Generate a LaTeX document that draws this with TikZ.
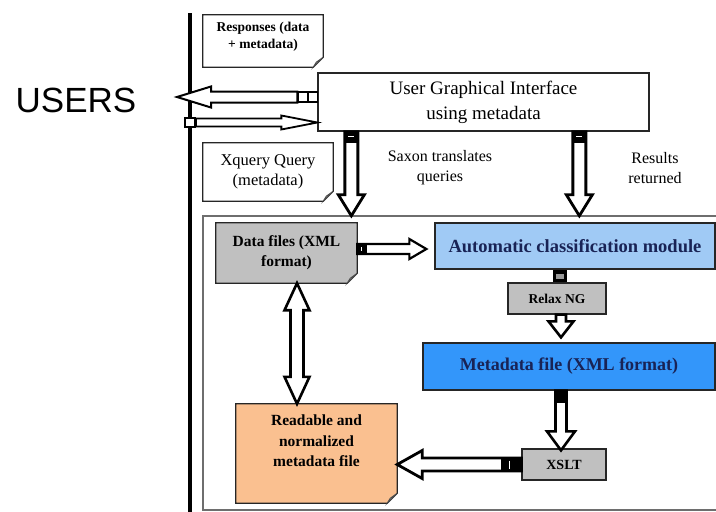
\documentclass[tikz,border=0pt]{standalone}
\usepackage{fontspec}
\setmainfont{Liberation Serif}
\newfontfamily\usersfont{Liberation Sans}
\usetikzlibrary{calc,backgrounds}
\definecolor{lblue}{RGB}{160,202,245}
\definecolor{mblue}{RGB}{51,150,250}
\definecolor{gbox}{RGB}{192,192,192}
\definecolor{obox}{RGB}{250,192,144}
\definecolor{navy}{RGB}{25,35,85}
\definecolor{frameg}{RGB}{110,110,110}
% block arrow: start, end, shaft half, head half, head length, options
\newcommand\barrow[6]{%
  \coordinate (hb) at ($(#2)!#5pt!(#1)$);
  \draw[line width=2.4pt, fill=white, line join=miter, #6]
    ($(#1)!#3pt!90:(#2)$) -- ($(hb)!#3pt!90:(#2)$) -- ($(hb)!#4pt!90:(#2)$)
    -- (#2) -- ($(hb)!#4pt!-90:(#2)$) -- ($(hb)!#3pt!-90:(#2)$)
    -- ($(#1)!#3pt!-90:(#2)$) -- cycle;}
% double block arrow
\newcommand\dbarrow[5]{%
  \coordinate (hbA) at ($(#1)!#5pt!(#2)$);
  \coordinate (hbB) at ($(#2)!#5pt!(#1)$);
  \draw[line width=2.6pt, fill=white, line join=miter]
    (#1) -- ($(hbA)!#4pt!90:(#2)$) -- ($(hbA)!#3pt!90:(#2)$)
    -- ($(hbB)!#3pt!90:(#2)$) -- ($(hbB)!#4pt!90:(#2)$) -- (#2)
    -- ($(hbB)!#4pt!-90:(#2)$) -- ($(hbB)!#3pt!-90:(#2)$)
    -- ($(hbA)!#3pt!-90:(#2)$) -- ($(hbA)!#4pt!-90:(#2)$) -- cycle;}
% folded-corner outline of a node
\newcommand\foldshape[2]{%
  \draw[line width=1.2pt, draw=black!85, fill=#2]
    (#1.north west) -- (#1.north east) -- ($(#1.south east)+(0,-10)$)
    -- ($(#1.south east)+(-10,0)$) -- (#1.south west) -- cycle;
  \draw[line width=0.8pt, draw=black!70, fill=black!35]
    ($(#1.south east)+(0,-10)$) -- ($(#1.south east)+(-7,-5)$)
    -- ($(#1.south east)+(-10,0)$) -- cycle;}
\begin{document}
\begin{tikzpicture}[x=1pt,y=-1pt,
  bx/.style={draw=black!85, line width=1.3pt, inner sep=0pt, align=center},
  fb/.style={inner sep=0pt, align=center},
  txt/.style={inner sep=0pt, align=center},
  hdl/.style={fill=black},
  sq/.style={draw=black, line width=1.4pt, fill=white}]
\useasboundingbox (0,0) rectangle (716,512);

% frame and users bar
\node[fb, minimum width=513pt, minimum height=294pt] (frame) at (459.5,363) {};
\draw[frameg, line width=1.5pt] (frame.north east) -- (frame.north west) -- (frame.south west) -- (frame.south east);
\draw[line width=4pt] (190,13) -- (190,512);

% nodes
\node[txt, font=\usersfont\fontsize{35}{40}\selectfont] (users) at (76,100) {USERS};
\node[fb, minimum width=120pt, minimum height=52pt] (resp) at (263,41) {};
\node[txt, font=\bfseries\fontsize{13.5}{17}\selectfont] (resptxt) at (263,37) {Responses (data\\+ metadata)};
\node[bx, minimum width=331pt, minimum height=58pt, font=\fontsize{19}{25}\selectfont] (ugi) at (483.5,102) {User Graphical Interface\\using metadata};
\node[fb, minimum width=130pt, minimum height=58pt, font=\fontsize{16.5}{20}\selectfont] (xq) at (268,172) {Xquery Query\\(metadata)};
\node[txt, font=\fontsize{16}{20}\selectfont] (saxon) at (440,168) {Saxon translates\\queries};
\node[txt, font=\fontsize{16}{20}\selectfont] (results) at (655,168) {Results\\returned};
\node[fb, minimum width=141pt, minimum height=60pt, font=\bfseries\fontsize{15.5}{20}\selectfont] (data) at (286.5,253) {Data files (XML\\format)};
\node[bx, fill=lblue, text=navy, minimum width=280pt, minimum height=46pt, font=\bfseries\fontsize{18.5}{22}\selectfont] (auto) at (575,246) {Automatic classification module};
\node[bx, fill=gbox, minimum width=98pt, minimum height=31pt, font=\bfseries\fontsize{13.5}{16}\selectfont] (relax) at (557,298.5) {Relax NG};
\node[bx, fill=mblue, text=navy, minimum width=292pt, minimum height=47pt, font=\bfseries\fontsize{18}{22}\selectfont] (meta) at (569,366.5) {Metadata file (XML format)};
\node[bx, fill=gbox, minimum width=84pt, minimum height=31pt, font=\bfseries\fontsize{14}{16}\selectfont] (xslt) at (564,464.5) {XSLT};
\node[fb, minimum width=161pt, minimum height=99pt] (read) at (316.5,453.5) {};
\node[txt, font=\bfseries\fontsize{15.5}{20.5}\selectfont] (readtxt) at (316.5,441) {Readable and\\normalized\\metadata file};

\begin{scope}[on background layer]
  \fill[white] (0,0) rectangle (716,512);
  \foldshape{resp}{white}
  \foldshape{xq}{white}
  \foldshape{data}{gbox}
  \foldshape{read}{obox}
\end{scope}

% arrows between users and UGI
\coordinate (uTip) at (177,97);
\coordinate (uTail) at ($(ugi.west |- uTip)+(-20,0)$);
\barrow{uTail}{uTip}{5.5}{10.5}{34}{line width=2pt}
\draw[sq] ($(uTail)+(1,-5)$) rectangle ($(uTail)+(10,5)$);
\draw[sq] ($(uTail)+(11,-5)$) rectangle ($(uTail)+(20,5)$);
\coordinate (vStart) at (196,122.5);
\coordinate (vTip) at (ugi.west |- vStart);
\barrow{vStart}{vTip}{4}{7}{36}{line width=1.8pt}
\draw[sq] ($(vStart)+(-11,-4.5)$) rectangle ($(vStart)+(-1,4.5)$);

% UGI down to frame
\coordinate (s1) at ($(ugi.south west)+(34,0)$);
\coordinate (t1) at (s1 |- frame.north);
\barrow{s1}{t1}{6.5}{13}{21}{line width=2.8pt}
\fill[hdl] ($(s1)+(-7,0)$) rectangle ($(s1)+(7,11)$);
\draw[white, line width=1.2pt] ($(s1)+(-3,5)$) -- ($(s1)+(3,5)$);
\coordinate (s2) at ($(ugi.south west)+(262,0)$);
\coordinate (t2) at (s2 |- frame.north);
\barrow{s2}{t2}{6.5}{13}{21}{line width=2.8pt}
\fill[hdl] ($(s2)+(-7,0)$) rectangle ($(s2)+(7,11)$);
\draw[white, line width=1.2pt] ($(s2)+(-3,5)$) -- ($(s2)+(3,5)$);

% data -> auto
\coordinate (s3) at ($(data.east)+(0,-4)$);
\coordinate (t3) at ($(auto.west |- s3)+(-8,0)$);
\barrow{s3}{t3}{5}{10}{17}{line width=2.2pt}
\fill[hdl] ($(s3)+(0,-4)$) rectangle ($(s3)+(10,4)$);
\draw[white, line width=1pt] ($(s3)+(4,-2)$) -- ($(s3)+(4,2)$);

% auto -> relax (handle)
\coordinate (s4) at ($(relax.north)+(3,0)$);
\fill[hdl] (s4 |- auto.south) ++(-7,0) rectangle ($(s4)+(7,0)$);
\fill[black!40] ($(s4)+(-4,-8)$) rectangle ($(s4)+(4,-3)$);

% relax -> meta
\coordinate (s5) at ($(relax.south)+(4,0)$);
\coordinate (t5) at ($(s5 |- meta.north)+(0,-5)$);
\barrow{s5}{t5}{5}{12.5}{16}{line width=2.6pt}

% meta -> xslt
\coordinate (t6) at ($(xslt.north)+(-3,2)$);
\coordinate (s6) at (t6 |- meta.south);
\barrow{s6}{t6}{5.5}{14}{19}{line width=2.6pt}
\fill[hdl] ($(s6)+(-7,0)$) rectangle ($(s6)+(7,12)$);

% xslt -> read
\coordinate (s7) at (xslt.west);
\coordinate (t7) at (read.east |- s7);
\barrow{s7}{t7}{6.5}{14}{25}{line width=2.8pt}
\fill[hdl] ($(s7)+(-20,-7.5)$) rectangle ($(s7)+(0,7.5)$);
\draw[white, line width=1.4pt] ($(s7)+(-12,-4)$) -- ($(s7)+(-12,4)$);

% data <-> read
\coordinate (s8) at ($(data.south)+(10.5,0)$);
\coordinate (t8) at (s8 |- read.north);
\dbarrow{s8}{t8}{6.5}{12.5}{27}
\end{tikzpicture}
\end{document}
